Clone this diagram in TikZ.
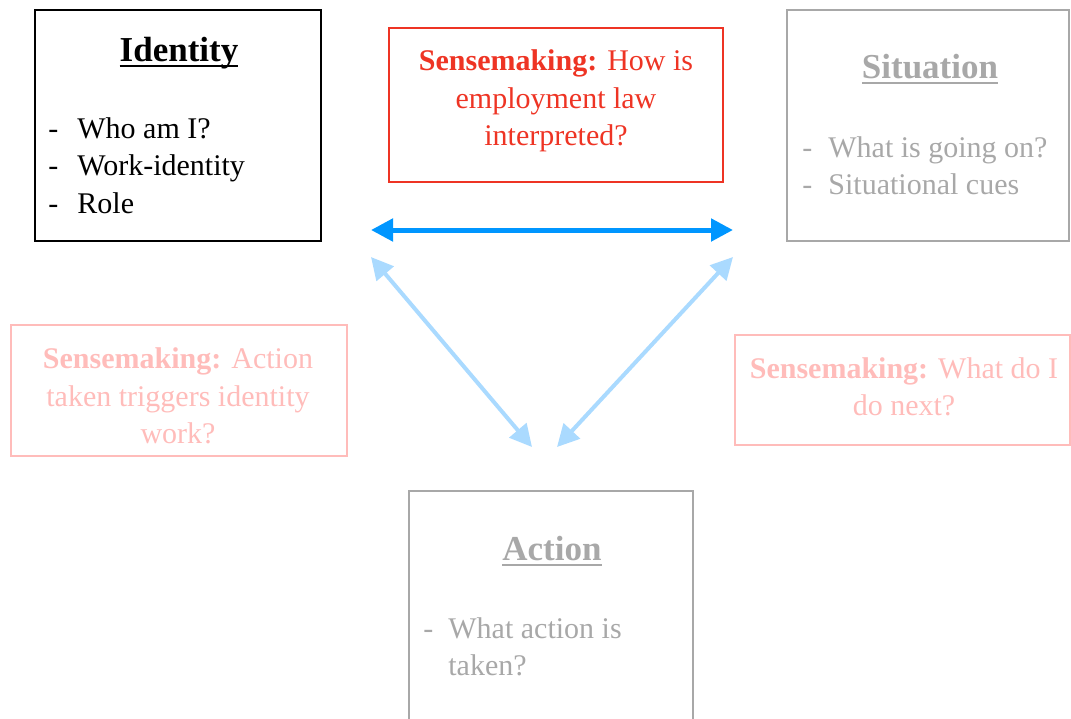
\documentclass[tikz,border=0pt]{standalone}
\usepackage{fontspec}
\setmainfont{Liberation Serif}
\usetikzlibrary{arrows.meta,fit}
\definecolor{senseRed}{RGB}{238,52,36}
\definecolor{sensePink}{RGB}{255,188,186}
\definecolor{boxGray}{RGB}{168,168,168}
\definecolor{linkBlue}{RGB}{0,150,255}
\definecolor{linkPale}{RGB}{170,218,255}
\newcommand{\headline}[1]{\setbox0\hbox{#1}\rlap{\rule[-3pt]{\wd0}{1pt}}\box0}
\tikzset{
  box/.style={draw, line width=0.75pt, inner sep=0pt, fit={#1}},
  body/.style={inner sep=0pt, font=\fontsize{15}{18.75}\selectfont},
  head/.style={inner sep=0pt, anchor=base, font=\fontsize{17.5}{21}\selectfont\bfseries},
  item/.style={body, anchor=base west},
  sense/.style={body, align=center},
  link/.style={linkBlue, line width=2.5pt,
    {Triangle[length=11pt,width=11pt]}-{Triangle[length=11pt,width=11pt]}},
  backlink/.style={linkPale, line width=2pt,
    {Triangle[length=11pt,width=11pt]}-{Triangle[length=11pt,width=11pt]}}
}
\begin{document}
\begin{tikzpicture}[x=0.5pt,y=-0.5pt]
  \useasboundingbox (0,0) rectangle (1071,718);
  \clip (0,0) rectangle (1071,718);

  % identity
  \node[box={(35,10) (321,241)}] (identity) {};
  \node[head] (identity-title) at (179,61) {\headline{Identity}};
  \foreach \t [count=\i] in {Who am I?, Work-identity, Role} {
    \node[item] (identity-dash-\i) at (48,100.5+37.5*\i) {-};
    \node[item] (identity-item-\i) at (77,100.5+37.5*\i) {\t};
  }

  % situation
  \node[box={(787,10) (1069,241)}, boxGray] (situation) {};
  \node[head, boxGray] (situation-title) at (930,78) {\headline{Situation}};
  \foreach \t [count=\i] in {What is going on?, Situational cues} {
    \node[item, boxGray] (situation-dash-\i) at (802,119.5+37.5*\i) {-};
    \node[item, boxGray] (situation-item-\i) at (828,119.5+37.5*\i) {\t};
  }

  % action
  \node[box={(409,491) (693,760)}, boxGray] (action) {};
  \node[head, boxGray] (action-title) at (552,560) {\headline{Action}};
  \node[item, boxGray] (action-dash) at (423,638) {-};
  \node[item, boxGray] (action-item) at (448,638) {What action is};
  \node[item, boxGray] (action-item-2) at (448,675.5) {taken?};

  % sensemaking
  \node[box={(389,28) (723,182)}, senseRed] (sense-law) {};
  \node[sense, senseRed] (sense-law-text) at (556,101)
    {\textbf{Sensemaking:} How is\\employment law\\interpreted?};
  \node[box={(11,325) (347,456)}, sensePink] (sense-work) {};
  \node[sense, sensePink] (sense-work-text) at (178,396)
    {\textbf{Sensemaking:} Action\\taken triggers identity\\work?};
  \node[box={(735,335) (1070,445)}, sensePink] (sense-next) {};
  \node[sense, sensePink] (sense-next-text) at (904,387)
    {\textbf{Sensemaking:} What do I\\do next?};

  % links
  \coordinate (link-l) at (371,230);
  \coordinate (link-r) at (733,230);
  \coordinate (link-lt) at (371,257);
  \coordinate (link-rt) at (733,257);
  \coordinate (link-lb) at (532,447);
  \coordinate (link-rb) at (557,447);
  \draw[link] (link-l) -- (link-r);
  \draw[backlink] (link-lt) -- (link-lb);
  \draw[backlink] (link-rt) -- (link-rb);
\end{tikzpicture}
\end{document}
